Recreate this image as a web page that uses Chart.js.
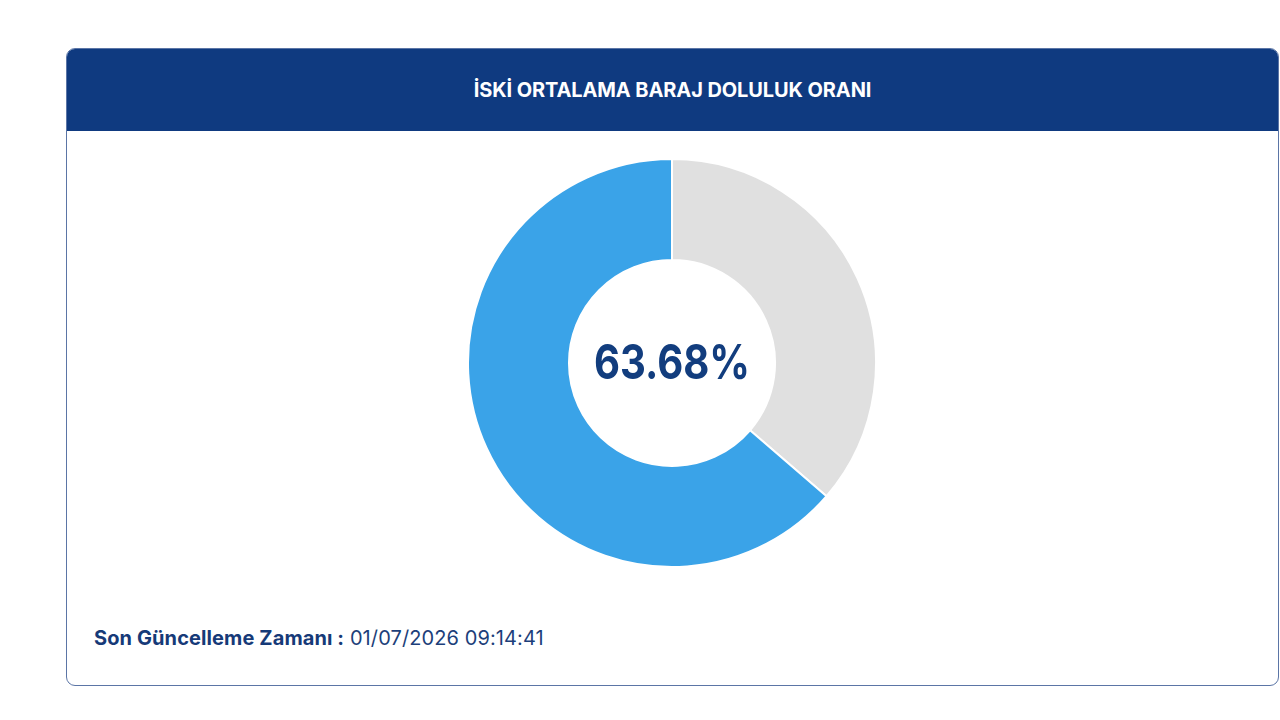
<!DOCTYPE html>
<html lang="tr">
<head>
<meta charset="UTF-8">
<title>İSKİ Ortalama Baraj Doluluk Oranı</title>
<script src="https://cdn.jsdelivr.net/npm/chart.js@4"></script>
<style>
    html, body {
        margin: 0;
        padding: 0;
        background: #ffffff;
        font-family: "Inter", "Noto Sans", sans-serif;
    }
    .card {
        position: absolute;
        left: 66px;
        top: 48px;
        width: 1213px;
        height: 638px;
        box-sizing: border-box;
        border: 1px solid #5b75a6;
        border-radius: 9px;
        overflow: hidden;
        background: #fff;
    }
    .card-header {
        height: 82px;
        background: #0f3a80;
        color: #fff;
        font-weight: 700;
        font-size: 20px;
        letter-spacing: -0.1px;
        display: flex;
        align-items: center;
        justify-content: center;
    }
    .chart-box {
        position: absolute;
        left: 467px;  /* page coords: centre 672,363 */
        top: 158px;
        width: 410px;
        height: 410px;
    }
    .footer {
        position: absolute;
        left: 94px;
        top: 626px;
        font-size: 20px;
        color: #1d3f7a;
        letter-spacing: 0.1px;
    }
    .footer b { font-weight: 700; color: #163a78; }
</style>
</head>
<body>

<div class="card">
    <div class="card-header">İSKİ ORTALAMA BARAJ DOLULUK ORANI</div>
</div>

<div class="chart-box">
    <canvas id="barajChart"></canvas>
</div>

<div class="footer"><b>Son Güncelleme Zamanı :</b> <span id="zaman"></span></div>

<script>
    // veriler
    const labels = ['Boş', 'Dolu'];
    const values = [36.32, 63.68];
    const lastUpdate = '01/07/2026 09:14:41';

    document.getElementById('zaman').textContent = lastUpdate;

    // ortadaki yüzde yazısı
    const centerText = {
        id: 'centerText',
        afterDraw(chart) {
            const arc = chart.getDatasetMeta(0).data[0];
            if (!arc) return;
            const ctx = chart.ctx;
            const txt = values[1].toFixed(2) + '%';
            ctx.save();
            ctx.font = '700 48px Inter, "Noto Sans", sans-serif';
            ctx.fillStyle = '#123d7e';
            ctx.textAlign = 'center';
            ctx.textBaseline = 'middle';
            const w = ctx.measureText(txt).width;
            const sx = Math.min(1, 156 / w);
            ctx.translate(arc.x, arc.y + 2);
            ctx.scale(sx, 1);
            ctx.fillText(txt, 0, 0);
            ctx.restore();
        }
    };

    const ctx = document.getElementById('barajChart').getContext('2d');
    new Chart(ctx, {
        type: 'doughnut',
        data: {
            labels: labels,
            datasets: [{
                data: values,
                backgroundColor: ['#e0e0e0', '#3aa3e8'],
                borderColor: '#ffffff',
                borderWidth: 2
            }]
        },
        options: {
            responsive: true,
            maintainAspectRatio: false,
            animation: false,
            cutout: '50.5%',
            layout: { padding: 0 },
            plugins: {
                legend: { display: false },
                tooltip: { enabled: false }
            }
        },
        plugins: [centerText]
    });
</script>

</body>
</html>
